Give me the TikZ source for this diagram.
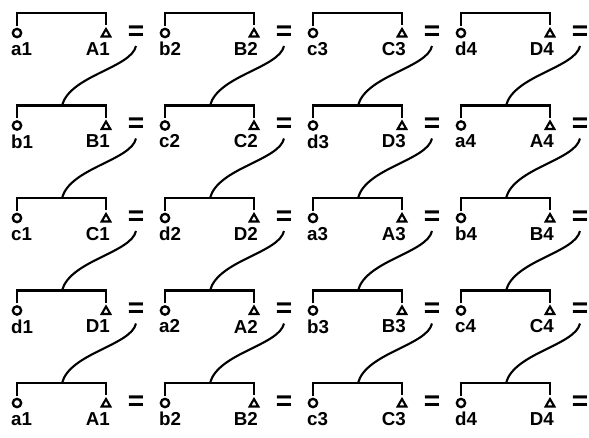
\documentclass[tikz,border=0pt]{standalone}
\usepackage{fontspec}
\setmainfont{Liberation Sans}
\usetikzlibrary{shapes.geometric}

\begin{document}
\begin{tikzpicture}[x=0.03cm,y=-0.03cm,
        bar/.style={line width=2.4pt},
        link/.style={line width=1.8pt},
        ring/.style={draw,circle,line width=2pt,minimum size=0.25cm,inner sep=0pt},
        tri/.style={draw,regular polygon,regular polygon sides=3,line width=1.8pt,
                    minimum size=0.3cm,inner sep=0pt},
        lbl/.style={font=\fontsize{16}{18}\selectfont\bfseries,inner sep=0pt},
        eq/.style={font=\fontsize{24}{24}\selectfont\bfseries,inner sep=0pt}
    ]
        \useasboundingbox (0,0) rectangle (589,437);
        % one unit per pair: bar, circle, triangle, labels, equals sign
        \foreach \r/\lst in {0/{a1/A1,b2/B2,c3/C3,d4/D4},1/{b1/B1,c2/C2,d3/D3,a4/A4},
                             2/{c1/C1,d2/D2,a3/A3,b4/B4},3/{d1/D1,a2/A2,b3/B3,c4/C4},
                             4/{a1/A1,b2/B2,c3/C3,d4/D4}}
        \foreach \s/\S [count=\c from 0] in \lst {
            \pgfmathsetmacro\L{17+148*\c}
            \pgfmathsetmacro\B{13+92.5*\r}
            \coordinate (m-\r-\c) at ({\L+45},\B);
            \coordinate (e-\r-\c) at ({\L+119},{\B+33});
            \node[ring] (o-\r-\c) at (\L,{\B+20}) {};
            \node[tri] (t-\r-\c) at ({\L+89},{\B+21}) {};
            \node[lbl,anchor=west] (s-\r-\c) at ({\L-6},{\B+36}) {\s};
            \node[lbl,anchor=east] (S-\r-\c) at ({\L+93},{\B+36}) {\S};
            \node[eq] (q-\r-\c) at ({\L+119},{\B+20}) {=};
            \draw[bar] ([yshift=1.5pt]o-\r-\c.north) |- (m-\r-\c) -| ([yshift=1.5pt]t-\r-\c.north);
        }
        % links down to the next row
        \foreach \r in {0,...,3}
        \foreach \c in {0,...,3} {
            \pgfmathtruncatemacro\n{\r+1}
            \draw[link] (e-\r-\c) .. controls +(-5,22) and +(8,-30) .. (m-\n-\c);
        }
    \end{tikzpicture}
\end{document}
